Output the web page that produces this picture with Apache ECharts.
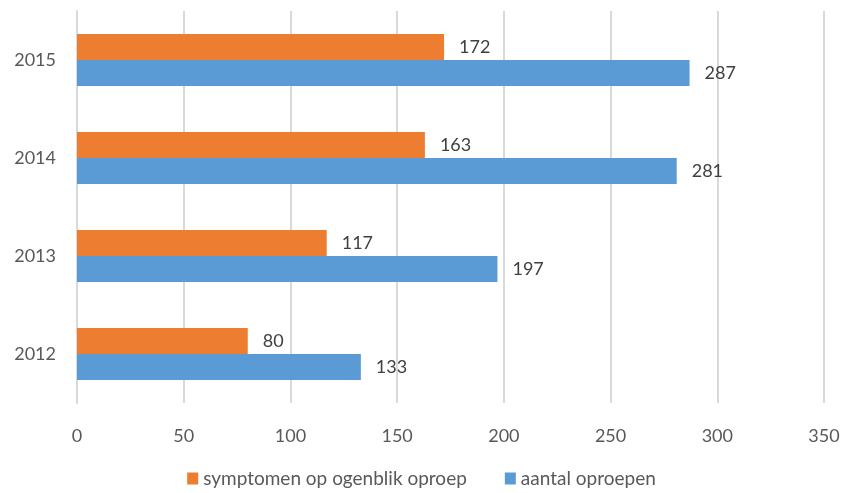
<!DOCTYPE html>
<html>
<head>
<meta charset="utf-8">
<script src="https://cdn.jsdelivr.net/npm/echarts@6/dist/echarts.min.js"></script>
<style>
  html, body { margin: 0; padding: 0; background: #fff; }
  #chart { width: 843px; height: 493px; }
</style>
</head>
<body>
<div id="chart"></div>
<script>
// data
var years = ['2012', '2013', '2014', '2015'];
var symptomen = [80, 117, 163, 172];
var oproepen = [133, 197, 281, 287];
var seriesNames = ['symptomen op ogenblik oproep', 'aantal oproepen'];

var chart = echarts.init(document.getElementById('chart'));
var font = 'Lato, "Open Sans", sans-serif';

chart.setOption({
  animation: false,
  textStyle: { fontFamily: font },
  grid: { left: 77, right: 19, top: 11, bottom: 90, containLabel: false },
  legend: {
    bottom: 0,
    left: 'center',
    itemWidth: 11,
    itemHeight: 12,
    itemGap: 38,
    icon: 'rect',
    textStyle: { fontSize: 19, color: '#595959', fontFamily: font },
    data: seriesNames
  },
  xAxis: {
    type: 'value',
    min: 0,
    max: 350,
    interval: 50,
    axisLabel: { fontSize: 18, color: '#595959', margin: 24 },
    splitLine: { lineStyle: { color: '#d9d9d9', width: 2 } },
    axisLine: { show: false },
    axisTick: { show: false }
  },
  yAxis: {
    type: 'category',
    data: years,
    axisLabel: { fontSize: 18, color: '#595959', margin: 21 },
    axisLine: { show: true, lineStyle: { color: '#d9d9d9', width: 2 } },
    axisTick: { show: false }
  },
  series: [
    {
      name: seriesNames[0],
      type: 'bar',
      data: symptomen,
      barGap: '0%',
      barCategoryGap: '47%',
      itemStyle: { color: '#ED7D31' },
      label: { show: true, position: 'right', distance: 15, fontSize: 18, color: '#404040' }
    },
    {
      name: seriesNames[1],
      type: 'bar',
      data: oproepen,
      barGap: '0%',
      barCategoryGap: '47%',
      itemStyle: { color: '#5B9BD5' },
      label: { show: true, position: 'right', distance: 15, fontSize: 18, color: '#404040' }
    }
  ]
});
</script>
</body>
</html>
